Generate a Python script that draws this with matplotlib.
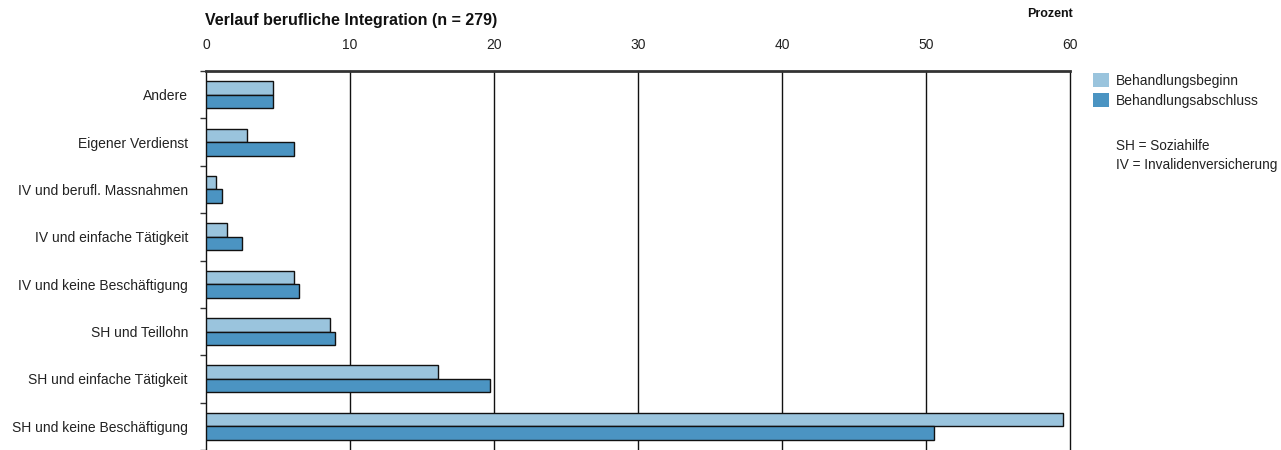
import numpy as np
import matplotlib.pyplot as plt
from matplotlib.patches import Patch

plt.rcParams['font.family'] = ['Liberation Sans', 'DejaVu Sans']

categories = ["Andere", "Eigener Verdienst", "IV und berufl. Massnahmen",
              "IV und einfache Tätigkeit", "IV und keine Beschäftigung",
              "SH und Teillohn", "SH und einfache Tätigkeit",
              "SH und keine Beschäftigung"]
beginn = [4.66, 2.87, 0.72, 1.43, 6.09, 8.60, 16.13, 59.50]
abschluss = [4.66, 6.09, 1.08, 2.51, 6.45, 8.96, 19.71, 50.54]
series_names = ["Behandlungsbeginn", "Behandlungsabschluss"]
xticks = [0, 10, 20, 30, 40, 50, 60]

c_light = "#9ac4dd"
c_dark = "#4b94c2"
txt = "#222222"

fig = plt.figure(figsize=(12.81, 4.5), dpi=100)
ax = fig.add_axes([206/1281, 0, 864/1281, 1 - 71/450])

y = np.arange(len(categories))
h = 0.285
ax.barh(y - h/2, beginn, height=h, color=c_light, edgecolor="#111111", linewidth=1, zorder=3)
ax.barh(y + h/2, abschluss, height=h, color=c_dark, edgecolor="#111111", linewidth=1, zorder=3)

ax.set_xlim(0, 60)
ax.set_ylim(len(categories) - 0.5, -0.5)

ax.xaxis.tick_top()
ax.set_xticks(xticks)
ax.set_xticklabels([str(t) for t in xticks], fontsize=10, color=txt)
ax.tick_params(axis='x', length=0, pad=14)
for t in xticks[1:]:
    ax.axvline(t, color="#111111", linewidth=1, zorder=1, clip_on=False)

ax.set_yticks(y)
ax.set_yticklabels(categories, fontsize=10, color=txt)
ax.tick_params(axis='y', length=0, pad=13)
ax.set_yticks(np.arange(len(categories) + 1) - 0.5, minor=True)
ax.tick_params(axis='y', which='minor', length=4, width=1, color="#333333", direction='out')

ax.spines['top'].set_linewidth(2)
ax.spines['top'].set_color("#333333")
ax.spines['left'].set_linewidth(1)
ax.spines['left'].set_color("#111111")
ax.spines['right'].set_visible(False)
ax.spines['bottom'].set_visible(False)

fig.text(205/1281, 1 - 20/450, "Verlauf berufliche Integration (n = 279)",
         fontsize=11.5, fontweight='bold', va='center', ha='left', color="#111111")
fig.text(1073/1281, 1 - 14/450, "Prozent", fontsize=9, fontweight='bold',
         va='center', ha='right', color="#111111")

handles = [Patch(facecolor=c_light, edgecolor='none'), Patch(facecolor=c_dark, edgecolor='none')]
fig.legend(handles, series_names, loc='upper left', bbox_to_anchor=(1093/1281, 1 - 73/450),
           frameon=False, fontsize=10, handlelength=1.15, handleheight=1.15,
           handletextpad=0.5, borderaxespad=0, borderpad=0, labelspacing=0.4,
           labelcolor=txt)
fig.text(1116/1281, 1 - 146/450, "SH = Soziahilfe", fontsize=9.8, va='center', color=txt)
fig.text(1116/1281, 1 - 165/450, "IV = Invalidenversicherung", fontsize=9.8, va='center', color=txt)

fig.savefig("out.png", dpi=100)
